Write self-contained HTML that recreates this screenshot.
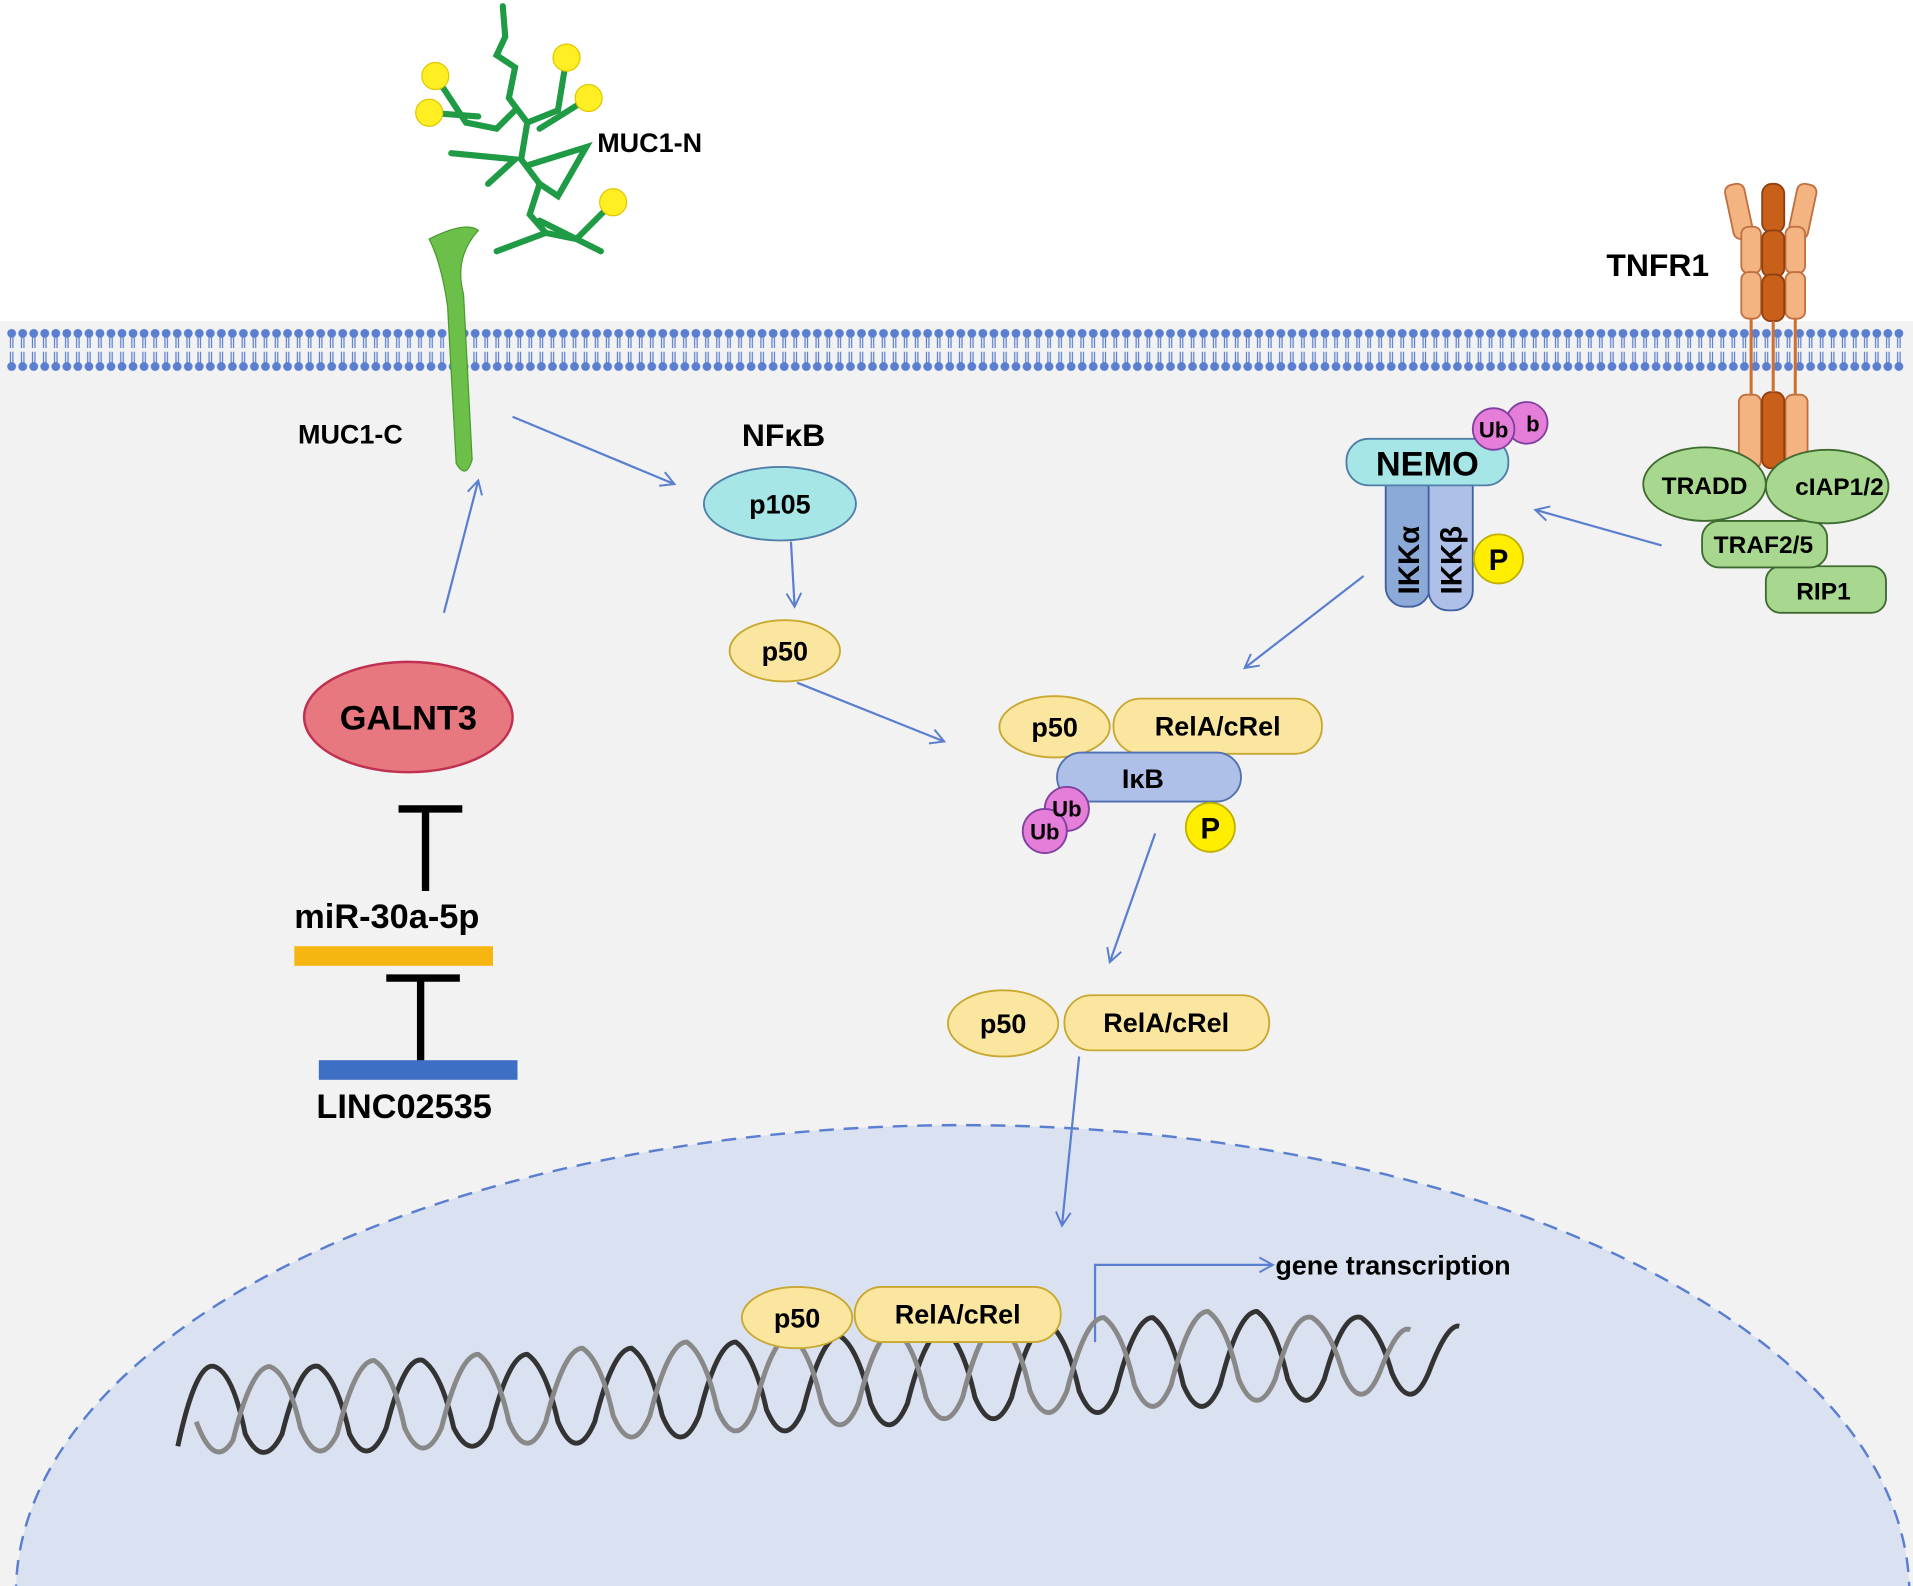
<!DOCTYPE html>
<html><head><meta charset="utf-8"><style>html,body{margin:0;padding:0;background:#fff;width:1913px;height:1586px;overflow:hidden}svg{display:block}text{font-family:"Liberation Sans",sans-serif;font-weight:bold}</style></head><body>
<svg width="1913" height="1586" viewBox="0 0 1560 1294" preserveAspectRatio="none" xmlns="http://www.w3.org/2000/svg" overflow="hidden">
<defs>
<pattern id="mem" x="5" y="262" width="9" height="46" patternUnits="userSpaceOnUse">
<circle cx="4.5" cy="10" r="3.6" fill="#5b7fd0"/><circle cx="4.5" cy="37" r="3.6" fill="#5b7fd0"/>
<line x1="3.5" y1="13" x2="3.5" y2="22" stroke="#5b7fd0" stroke-width="1"/><line x1="5.5" y1="13" x2="5.5" y2="22" stroke="#5b7fd0" stroke-width="1"/>
<line x1="3.5" y1="25" x2="3.5" y2="34" stroke="#5b7fd0" stroke-width="1"/><line x1="5.5" y1="25" x2="5.5" y2="34" stroke="#5b7fd0" stroke-width="1"/>
</pattern>
<marker id="ar" markerWidth="14" markerHeight="14" refX="12" refY="7" orient="auto" markerUnits="userSpaceOnUse"><path d="M1,1 L12,7 L1,13" fill="none" stroke="#5b7fd0" stroke-width="1.6"/></marker>
<clipPath id="cl"><rect x="0" y="0" width="1560" height="1294"/></clipPath>
</defs>
<g clip-path="url(#cl)">
<rect x="0" y="262" width="1560" height="1032" fill="#f2f2f2"/>
<rect x="5" y="262" width="1548" height="48" fill="url(#mem)"/>
<ellipse cx="785" cy="1300" rx="772" ry="382" fill="#dae1f1" stroke="#5b7fd0" stroke-width="2" stroke-dasharray="12,8"/>
<g stroke="#1f9a45" stroke-width="5" fill="none" stroke-linecap="round">
<path d="M410,5 L412,30 L405,45 L420,55 L415,80 L430,100 L425,130 L440,150 L432,175 L445,190"/>
<path d="M355,62 L380,100 L405,105 L420,90"/><path d="M350,92 L390,95"/>
<path d="M462,47 L455,90 L430,100"/><path d="M480,80 L440,105"/>
<path d="M368,125 L420,130 L398,150"/><path d="M430,135 L478,120 L455,160 L440,150"/>
<path d="M500,165 L470,195 L445,190 L405,205"/><path d="M440,180 L490,205"/>
</g>
<g fill="#ffee22" stroke="#e0c800" stroke-width="1"><circle cx="355" cy="62" r="11"/><circle cx="350" cy="92" r="11"/><circle cx="462" cy="47" r="11"/><circle cx="480" cy="80" r="11"/><circle cx="500" cy="165" r="11"/></g>
<path d="M350,195 Q380,180 390,188 Q370,210 378,240 L385,375 Q380,392 372,378 L365,250 Q360,215 350,195 Z" fill="#6cc04a" stroke="#4a9a30" stroke-width="1"/>
<text x="487" y="124" font-size="22">MUC1-N</text>
<text x="243" y="362" font-size="22">MUC1-C</text>
<g stroke="#5b7fd0" stroke-width="1.8" fill="none" marker-end="url(#ar)">
<line x1="418" y1="340" x2="550" y2="395"/>
<line x1="362" y1="500" x2="390" y2="392"/>
<line x1="645" y1="442" x2="648" y2="495"/>
<line x1="650" y1="557" x2="770" y2="605"/>
<line x1="1112" y1="470" x2="1015" y2="545"/>
<line x1="1355" y1="445" x2="1252" y2="416"/>
<line x1="942" y1="680" x2="905" y2="785"/>
<line x1="880" y1="862" x2="866" y2="1000"/>
<path d="M893,1095 L893,1032 L1038,1032"/>
</g>
<text x="605" y="364" font-size="26">NFκB</text>
<ellipse cx="636" cy="411" rx="62" ry="30" fill="#a6e6e6" stroke="#4f7fa8" stroke-width="1.5"/>
<text x="636" y="419" font-size="22" text-anchor="middle">p105</text>
<ellipse cx="640" cy="531" rx="45" ry="25" fill="#fbe6a0" stroke="#c8a830" stroke-width="1.5"/>
<text x="640" y="539" font-size="22" text-anchor="middle">p50</text>
<ellipse cx="860" cy="593" rx="45" ry="25" fill="#fbe6a0" stroke="#c8a830" stroke-width="1.5"/>
<text x="860" y="601" font-size="22" text-anchor="middle">p50</text>
<rect x="908" y="570" width="170" height="45" rx="22" fill="#fbe6a0" stroke="#c8a830" stroke-width="1.5"/>
<text x="993" y="600" font-size="22" text-anchor="middle">RelA/cRel</text>
<rect x="862" y="614" width="150" height="40" rx="20" fill="#aec0e8" stroke="#5070b0" stroke-width="1.5"/>
<text x="932" y="643" font-size="22" text-anchor="middle">IκB</text>
<circle cx="870" cy="660" r="18" fill="#e47ed8" stroke="#8040a0" stroke-width="1.5"/>
<circle cx="852" cy="678" r="18" fill="#e47ed8" stroke="#8040a0" stroke-width="1.5"/>
<text x="870" y="666" font-size="18" text-anchor="middle">Ub</text><text x="852" y="685" font-size="18" text-anchor="middle">Ub</text>
<circle cx="987" cy="675" r="20" fill="#ffee00" stroke="#c0b000" stroke-width="1.5"/>
<text x="987" y="684" font-size="24" text-anchor="middle">P</text>
<ellipse cx="818" cy="835" rx="45" ry="27" fill="#fbe6a0" stroke="#c8a830" stroke-width="1.5"/>
<text x="818" y="843" font-size="22" text-anchor="middle">p50</text>
<rect x="868" y="812" width="167" height="45" rx="22" fill="#fbe6a0" stroke="#c8a830" stroke-width="1.5"/>
<text x="951" y="842" font-size="22" text-anchor="middle">RelA/cRel</text>
<path d="M145,1180 Q160,1110 175,1115 Q190,1120 200,1170 Q215,1200 230,1170 Q245,1110 260,1115 Q275,1125 285,1170 Q300,1200 315,1165 Q330,1105 345,1110 Q360,1120 370,1165 Q385,1195 400,1165 Q415,1105 430,1105 Q445,1115 455,1160 Q470,1195 485,1160 Q500,1100 515,1100 Q530,1110 540,1155 Q555,1190 570,1155 Q585,1095 600,1095 Q615,1105 625,1150 Q640,1185 655,1150 Q670,1090 685,1090 Q700,1100 710,1145 Q725,1180 740,1145 Q755,1085 770,1085 Q785,1095 795,1140 Q810,1175 825,1140 Q840,1080 855,1080 Q870,1090 880,1135 Q895,1170 910,1135 Q925,1075 940,1075 Q955,1085 965,1130 Q980,1165 995,1130 Q1010,1070 1025,1070 Q1040,1080 1050,1125 Q1065,1160 1080,1125 Q1095,1070 1110,1075 Q1125,1085 1135,1120 Q1150,1155 1165,1120 Q1180,1080 1190,1082" fill="none" stroke="#333" stroke-width="4"/>
<path d="M160,1160 Q175,1200 190,1175 Q205,1115 220,1115 Q235,1120 245,1165 Q260,1200 275,1170 Q290,1110 305,1110 Q320,1118 330,1165 Q345,1198 360,1165 Q375,1105 390,1105 Q405,1115 415,1160 Q430,1195 445,1160 Q460,1100 475,1100 Q490,1110 500,1155 Q515,1190 530,1155 Q545,1095 560,1095 Q575,1105 585,1150 Q600,1185 615,1150 Q630,1090 645,1090 Q660,1100 670,1145 Q685,1180 700,1145 Q715,1085 730,1085 Q745,1095 755,1140 Q770,1175 785,1140 Q800,1080 815,1080 Q830,1090 840,1135 Q855,1170 870,1135 Q885,1075 900,1075 Q915,1085 925,1130 Q940,1165 955,1130 Q970,1070 985,1070 Q1000,1080 1010,1125 Q1025,1160 1040,1125 Q1055,1070 1070,1075 Q1085,1085 1095,1120 Q1110,1155 1125,1120 Q1140,1080 1150,1085" fill="none" stroke="#888" stroke-width="4"/>
<ellipse cx="650" cy="1075" rx="45" ry="25" fill="#fbe6a0" stroke="#c8a830" stroke-width="1.5"/>
<text x="650" y="1083" font-size="22" text-anchor="middle">p50</text>
<rect x="697" y="1050" width="168" height="45" rx="22" fill="#fbe6a0" stroke="#c8a830" stroke-width="1.5"/>
<text x="781" y="1080" font-size="22" text-anchor="middle">RelA/cRel</text>
<text x="1040" y="1040" font-size="22">gene transcription</text>
<g fill="#f4b482" stroke="#c07040" stroke-width="1.5">
<rect x="1410" y="150" width="16" height="45" rx="6" transform="rotate(-12 1418 172)"/>
<rect x="1462" y="150" width="16" height="45" rx="6" transform="rotate(12 1470 172)"/>
<rect x="1420" y="185" width="16" height="38" rx="6"/><rect x="1456" y="185" width="16" height="38" rx="6"/>
<rect x="1420" y="222" width="16" height="38" rx="6"/><rect x="1456" y="222" width="16" height="38" rx="6"/>
<rect x="1418" y="322" width="18" height="60" rx="6"/><rect x="1456" y="322" width="18" height="60" rx="6"/>
</g>
<g fill="#c8601a" stroke="#904010" stroke-width="1.5">
<rect x="1437" y="150" width="18" height="40" rx="8"/><rect x="1437" y="188" width="18" height="38" rx="7"/><rect x="1437" y="224" width="18" height="38" rx="7"/>
<rect x="1437" y="320" width="18" height="62" rx="7"/>
</g>
<g stroke="#d07030" stroke-width="2.5"><line x1="1428" y1="260" x2="1428" y2="322"/><line x1="1446" y1="262" x2="1446" y2="320"/><line x1="1464" y1="260" x2="1464" y2="322"/></g>
<text x="1310" y="225" font-size="26">TNFR1</text>
<g fill="#a8d890" stroke="#3f6a30" stroke-width="1.5">
<rect x="1440" y="462" width="98" height="38" rx="12"/>
<rect x="1388" y="425" width="102" height="38" rx="14"/>
<ellipse cx="1390" cy="395" rx="50" ry="30"/>
<ellipse cx="1490" cy="397" rx="50" ry="30"/>
</g>
<text x="1390" y="403" font-size="20" text-anchor="middle">TRADD</text>
<text x="1500" y="404" font-size="20" text-anchor="middle">cIAP1/2</text>
<text x="1438" y="451" font-size="20" text-anchor="middle">TRAF2/5</text>
<text x="1487" y="489" font-size="20" text-anchor="middle">RIP1</text>
<rect x="1130" y="380" width="36" height="115" rx="16" fill="#8caad8" stroke="#4060a0" stroke-width="1.5"/>
<rect x="1165" y="380" width="36" height="118" rx="16" fill="#aec0e8" stroke="#4060a0" stroke-width="1.5"/>
<text transform="translate(1157,485) rotate(-90)" font-size="24">IKKα</text>
<text transform="translate(1192,485) rotate(-90)" font-size="24">IKKβ</text>
<rect x="1098" y="358" width="132" height="38" rx="18" fill="#a6e6e6" stroke="#4f7fa8" stroke-width="1.5"/>
<text x="1164" y="388" font-size="28" text-anchor="middle">NEMO</text>
<circle cx="1245" cy="345" r="17" fill="#e47ed8" stroke="#8040a0" stroke-width="1.5"/>
<circle cx="1218" cy="350" r="17" fill="#e47ed8" stroke="#8040a0" stroke-width="1.5"/>
<text x="1218" y="357" font-size="18" text-anchor="middle">Ub</text><text x="1250" y="352" font-size="18" text-anchor="middle">b</text>
<circle cx="1222" cy="456" r="20" fill="#ffee00" stroke="#c0b000" stroke-width="1.5"/>
<text x="1222" y="465" font-size="24" text-anchor="middle">P</text>
<ellipse cx="333" cy="585" rx="85" ry="45" fill="#e87880" stroke="#c03050" stroke-width="2"/>
<text x="333" y="595" font-size="28" text-anchor="middle">GALNT3</text>
<g stroke="#000" stroke-width="6"><line x1="325" y1="660" x2="377" y2="660"/><line x1="347" y1="660" x2="347" y2="727"/><line x1="315" y1="798" x2="375" y2="798"/><line x1="343" y1="798" x2="343" y2="866"/></g>
<text x="240" y="757" font-size="28">miR-30a-5p</text>
<rect x="240" y="772" width="162" height="16" fill="#f7b512"/>
<rect x="260" y="865" width="162" height="16" fill="#3f6fc4"/>
<text x="258" y="912" font-size="28">LINC02535</text>
</g>
</svg>
</body></html>
